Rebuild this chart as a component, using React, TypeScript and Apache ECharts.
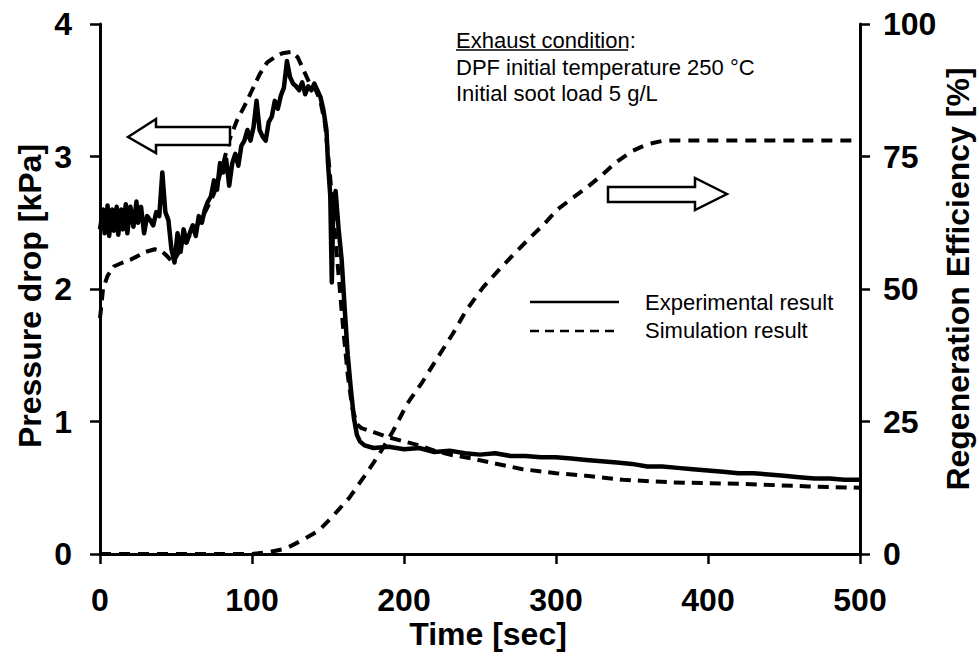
import React, { useEffect, useRef } from "react";
import * as echarts from "echarts";

// ---- axis ranges / ticks ----
const xMin = 0, xMax = 500, xStep = 100;
const pMin = 0, pMax = 4, pStep = 1;
const eMin = 0, eMax = 100, eStep = 25;

// ---- Experimental pressure drop [kPa] ----
const expTime = [
  0, 2, 3, 5, 6, 8, 9, 11, 12, 14, 15, 17, 18, 20, 22, 24, 25, 27, 29, 31, 33, 35, 37, 39,
  41, 43, 45, 47, 49, 51, 53, 55, 57, 59, 61, 63, 65, 67, 69, 71, 73, 75, 77, 79, 81, 83, 85,
  87, 89, 91, 93, 95, 97, 99, 101, 103, 105, 107, 109, 111, 113, 115, 117, 119, 121, 123, 125,
  127, 129, 131, 133, 135, 137, 139, 141, 143, 145, 147, 149, 150, 151.5, 152.5, 153.5, 155,
  157, 159, 161, 163, 165, 167, 169, 171, 174, 180, 190, 200, 210, 220, 230, 240, 250, 260,
  270, 280, 290, 300, 310, 320, 330, 340, 350, 360, 370, 380, 390, 400, 410, 420, 430, 440,
  450, 460, 470, 480, 490, 500,
];
const expPressure = [
  2.45, 2.6, 2.42, 2.63, 2.4, 2.6, 2.44, 2.62, 2.41, 2.6, 2.45, 2.64, 2.42, 2.62, 2.47, 2.66,
  2.5, 2.62, 2.42, 2.55, 2.52, 2.48, 2.58, 2.55, 2.88, 2.58, 2.52, 2.3, 2.2, 2.42, 2.28, 2.45,
  2.35, 2.42, 2.48, 2.4, 2.55, 2.5, 2.6, 2.66, 2.7, 2.82, 2.75, 2.95, 2.88, 2.98, 2.78, 2.95,
  3.02, 2.93, 3.08, 3.12, 3.2, 3.12, 3.22, 3.42, 3.2, 3.15, 3.12, 3.26, 3.3, 3.42, 3.36, 3.46,
  3.52, 3.72, 3.6, 3.55, 3.53, 3.5, 3.56, 3.47, 3.53, 3.5, 3.55, 3.5, 3.45, 3.35, 3.2, 2.95,
  2.7, 2.05, 2.62, 2.74, 2.45, 2.22, 1.85, 1.5, 1.25, 1.03, 0.9, 0.85, 0.82, 0.8, 0.81, 0.79,
  0.8, 0.77, 0.78, 0.76, 0.75, 0.76, 0.74, 0.74, 0.73, 0.73, 0.72, 0.71, 0.7, 0.69, 0.68, 0.66,
  0.66, 0.65, 0.64, 0.63, 0.62, 0.61, 0.61, 0.6, 0.59, 0.58, 0.57, 0.57, 0.56, 0.56,
];

// ---- Simulated pressure drop [kPa] ----
const simPTime = [
  0, 2, 5, 9, 15, 20, 25, 30, 36, 40, 44, 48, 52, 56, 60, 65, 70, 75, 80, 85, 90, 95, 100, 105,
  110, 115, 120, 126, 130, 134, 138, 142, 145, 148, 151, 154, 157, 160, 163, 166, 169, 172, 180,
  190, 200, 210, 220, 230, 245, 257, 278, 300, 320, 344, 377, 421, 466, 500,
];
const simPressure = [
  1.78, 2.0, 2.1, 2.17, 2.2, 2.22, 2.25, 2.28, 2.3, 2.29, 2.25, 2.2, 2.28, 2.36, 2.42, 2.5, 2.6,
  2.72, 2.9, 3.12, 3.27, 3.38, 3.5, 3.62, 3.71, 3.75, 3.78, 3.79, 3.75, 3.65, 3.55, 3.5, 3.42,
  3.25, 2.9, 2.5, 2.1, 1.7, 1.35, 1.1, 0.98, 0.95, 0.92, 0.88, 0.85, 0.82, 0.78, 0.75, 0.72,
  0.69, 0.64, 0.61, 0.59, 0.56, 0.54, 0.53, 0.51, 0.5,
];

// ---- Simulated regeneration efficiency [%] ----
const simETime = [
  0, 100, 110, 122, 133, 144, 154, 164, 174, 183, 193, 202, 212, 222, 232, 241, 252, 263, 272,
  283, 292, 301, 311, 321, 329, 340, 350, 360, 371, 400, 450, 500,
];
const simEfficiency = [
  0, 0, 0.3, 1, 2.6, 4.4, 7.4, 10.6, 14.7, 18.5, 23.3, 28.3, 32.4, 37, 41.5, 46, 50.3, 53.8, 56.5,
  59.7, 62.2, 65, 67.2, 69.3, 71.2, 74, 76, 77.3, 78, 78, 78, 78,
];

// ---- texts ----
const xTitle = "Time [sec]";
const leftTitle = "Pressure drop [kPa]";
const rightTitle = "Regeneration Efficiency [%]";
const noteLines = ["Exhaust condition:", "DPF initial temperature 250 °C", "Initial soot load 5 g/L"];
const legendLabels = ["Experimental result", "Simulation result"];

const FONT = "'Liberation Sans', Arial, Helvetica, sans-serif";
const zip = (a: number[], b: number[]) => a.map((v, i) => [v, b[i]]);

export default function App() {
  const ref = useRef<HTMLDivElement>(null);

  useEffect(() => {
    if (!ref.current) return;
    const chart = echarts.init(ref.current, null, { renderer: "svg" });

    const axisLine = { show: true, lineStyle: { color: "#000", width: 3 } };
    const axisTick = { show: true, inside: false, length: 10, lineStyle: { color: "#000", width: 2.5 } };
    const labelBase = { color: "#000", fontFamily: FONT, fontWeight: "bold" as const, fontSize: 32 };

    const txt = (text: string, x: number, y: number, opts: any = {}) => ({
      type: "text",
      x,
      y,
      rotation: opts.rotation || 0,
      silent: true,
      style: {
        text,
        fill: "#000",
        fontFamily: FONT,
        fontSize: opts.fontSize || 22,
        fontWeight: opts.fontWeight || "normal",
        align: opts.align || "left",
        verticalAlign: "middle",
        textAlign: opts.align || "left",
        textVerticalAlign: "middle",
      },
    });

    const option: any = {
      animation: false,
      backgroundColor: "#fff",
      grid: { left: 100, right: 119, top: 24, bottom: 104, containLabel: false, outerBoundsMode: "none" },
      xAxis: {
        type: "value",
        min: xMin,
        max: xMax,
        interval: xStep,
        axisLine,
        axisTick,
        splitLine: { show: false },
        axisLabel: { ...labelBase, margin: 30 },
      },
      yAxis: [
        {
          type: "value",
          min: pMin,
          max: pMax,
          interval: pStep,
          position: "left",
          axisLine,
          axisTick,
          splitLine: { show: false },
          axisLabel: { ...labelBase, margin: 28 },
        },
        {
          type: "value",
          min: eMin,
          max: eMax,
          interval: eStep,
          position: "right",
          axisLine,
          axisTick,
          splitLine: { show: false },
          axisLabel: { ...labelBase, margin: 23 },
        },
      ],
      series: [
        {
          name: "Simulation result (pressure)",
          type: "line",
          yAxisIndex: 0,
          data: zip(simPTime, simPressure),
          showSymbol: false,
          symbol: "none",
          lineStyle: { color: "#000", width: 4, type: [11, 7], cap: "butt" },
          z: 2,
        },
        {
          name: "Simulation result (efficiency)",
          type: "line",
          yAxisIndex: 1,
          data: zip(simETime, simEfficiency),
          showSymbol: false,
          symbol: "none",
          lineStyle: { color: "#000", width: 4, type: [11, 8], cap: "butt" },
          z: 2,
        },
        {
          name: "Experimental result",
          type: "line",
          yAxisIndex: 0,
          data: zip(expTime, expPressure),
          showSymbol: false,
          symbol: "none",
          lineStyle: { color: "#000", width: 4.5, join: "round" },
          z: 3,
        },
      ],
      graphic: [
        // axis titles
        txt(xTitle, 488, 634, { align: "center", fontSize: 32, fontWeight: "bold" }),
        txt(leftTitle, 30, 296, { align: "center", fontSize: 32, fontWeight: "bold", rotation: Math.PI / 2 }),
        txt(rightTitle, 958, 279, { align: "center", fontSize: 32, fontWeight: "bold", rotation: Math.PI / 2 }),
        // annotation
        txt(noteLines[0], 456, 40),
        txt(noteLines[1], 456, 67),
        txt(noteLines[2], 456, 93),
        {
          type: "line",
          silent: true,
          shape: { x1: 456, y1: 50, x2: 628, y2: 50 },
          style: { stroke: "#000", lineWidth: 1.5 },
        },
        // legend
        {
          type: "line",
          silent: true,
          shape: { x1: 530, y1: 302, x2: 619, y2: 302 },
          style: { stroke: "#000", lineWidth: 2.5 },
        },
        {
          type: "line",
          silent: true,
          shape: { x1: 530, y1: 331, x2: 619, y2: 331 },
          style: { stroke: "#000", lineWidth: 2.5, lineDash: [9, 6] },
        },
        txt(legendLabels[0], 645, 302),
        txt(legendLabels[1], 645, 330),
        // hollow arrows
        {
          type: "polygon",
          silent: true,
          shape: {
            points: [
              [128, 137], [156, 119], [156, 127], [230, 127], [230, 145], [156, 145], [156, 153],
            ],
          },
          style: { fill: "#fff", stroke: "#000", lineWidth: 2.5 },
          z: 10,
        },
        {
          type: "polygon",
          silent: true,
          shape: {
            points: [
              [727, 194], [695, 178], [695, 187], [608, 187], [608, 202], [695, 202], [695, 210],
            ],
          },
          style: { fill: "#fff", stroke: "#000", lineWidth: 2.5 },
          z: 10,
        },
      ],
    };

    chart.setOption(option);
    return () => chart.dispose();
  }, []);

  return (
    <div
      ref={ref}
      style={{ position: "absolute", left: 0, top: 0, width: 979, height: 658, background: "#fff" }}
    />
  );
}
